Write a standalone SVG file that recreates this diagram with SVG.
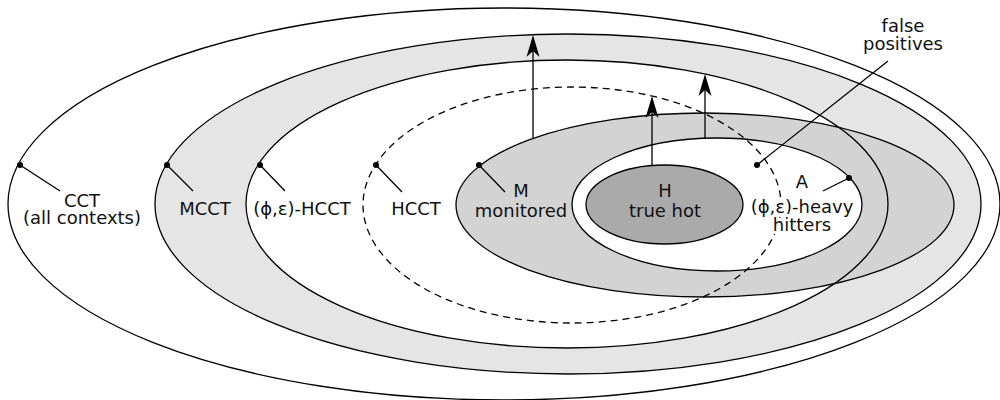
<svg xmlns="http://www.w3.org/2000/svg" xmlns:xlink="http://www.w3.org/1999/xlink" width="1000" height="400" viewBox="0 0 1000 400">
  <style>
    .ol { fill: none; stroke: #000; stroke-width: 1.3; }
    .dash { fill: none; stroke: #000; stroke-width: 1.3; stroke-dasharray: 7 5; }
    .lead { stroke: #000; stroke-width: 1.3; fill: none; }
    .dot { fill: #000; }
    .arrow { stroke: #000; stroke-width: 1.3; fill: none; marker-end: url(#ah); }
    text { font-family: "DejaVu Sans", "Liberation Sans", sans-serif; font-size: 18px; fill: #111; text-anchor: middle; }
    .halo { stroke: #fff; stroke-width: 6; stroke-linejoin: round; paint-order: stroke; }
  </style>
  <defs>
    <marker id="ah" viewBox="-23 -7 24 14" refX="-10" refY="0" markerWidth="24" markerHeight="14" markerUnits="userSpaceOnUse" orient="auto">
      <path d="M0,0 L-22,-6.5 L-16,0 L-22,6.5 Z" fill="#000"/>
    </marker>
  </defs>

  <g id="cct">
    <ellipse cx="504" cy="204" rx="496" ry="196" fill="#fff"/>
    <line class="lead" x1="20" y1="165" x2="60" y2="191"/>
    <circle class="dot" cx="20" cy="165" r="3"/>
    <text x="82" y="207">CCT</text>
    <text x="82" y="224">(all contexts)</text>
  </g>
  <g id="mcct">
    <ellipse cx="568" cy="204" rx="413" ry="170" fill="#e5e5e5"/>
    <line class="lead" x1="167" y1="165" x2="193" y2="191"/>
    <circle class="dot" cx="167" cy="165" r="3"/>
    <text x="205" y="215">MCCT</text>
  </g>
  <g id="phi-hcct">
    <ellipse cx="567" cy="204" rx="321" ry="144" fill="#fff"/>
    <line class="lead" x1="260" y1="165" x2="285" y2="191"/>
    <circle class="dot" cx="260" cy="165" r="3"/>
    <text x="302" y="215">(ϕ,ε)-HCCT</text>
  </g>
  <g id="m">
    <ellipse cx="705" cy="205" rx="249" ry="92" fill="#d3d3d3"/>
    <line class="lead" x1="479" y1="165" x2="505" y2="192"/>
    <circle class="dot" cx="479" cy="165" r="3"/>
    <text x="521" y="197">M</text>
    <text x="521" y="217">monitored</text>
  </g>
  <g id="a-fill">
    <ellipse cx="717" cy="204.5" rx="145" ry="66.5" fill="#fff"/>
  </g>
  <g id="h">
    <ellipse cx="664.5" cy="204.5" rx="78.5" ry="39.5" fill="#aaaaaa"/>
    <text x="665" y="197">H</text>
    <text x="665" y="217">true hot</text>
  </g>

  <g id="outlines">
    <ellipse class="ol" cx="504" cy="204" rx="496" ry="196"/>
    <ellipse class="ol" cx="568" cy="204" rx="413" ry="170"/>
    <ellipse class="ol" cx="567" cy="204" rx="321" ry="144"/>
    <ellipse class="ol" cx="705" cy="205" rx="249" ry="92"/>
    <ellipse class="ol" cx="717" cy="204.5" rx="145" ry="66.5"/>
    <ellipse class="ol" cx="664.5" cy="204.5" rx="78.5" ry="39.5"/>
  </g>

  <g id="hcct">
    <ellipse class="dash" cx="572" cy="205" rx="209" ry="118"/>
    <line class="lead" x1="376" y1="165" x2="402" y2="192"/>
    <circle class="dot" cx="376" cy="165" r="3"/>
    <text x="416" y="215">HCCT</text>
  </g>

  <g id="a">
    <text class="halo" x="802" y="213">(ϕ,ε)-heavy</text>
    <text class="halo" x="802" y="231">hitters</text>
    <text x="802" y="188">A</text>
    <line class="lead" x1="849" y1="178" x2="823" y2="191"/>
    <circle class="dot" cx="849" cy="178" r="3"/>
  </g>

  <g id="false-positives">
    <line class="lead" x1="757" y1="165" x2="888" y2="61"/>
    <circle class="dot" cx="757" cy="165" r="3"/>
    <text x="903" y="32">false</text>
    <text x="903" y="50">positives</text>
  </g>

  <g id="connectors">
    <line class="arrow" x1="533" y1="138.5" x2="533" y2="45"/>
    <line class="arrow" x1="652" y1="165.5" x2="652" y2="106"/>
    <line class="arrow" x1="705" y1="138" x2="705" y2="84"/>
  </g>
</svg>
